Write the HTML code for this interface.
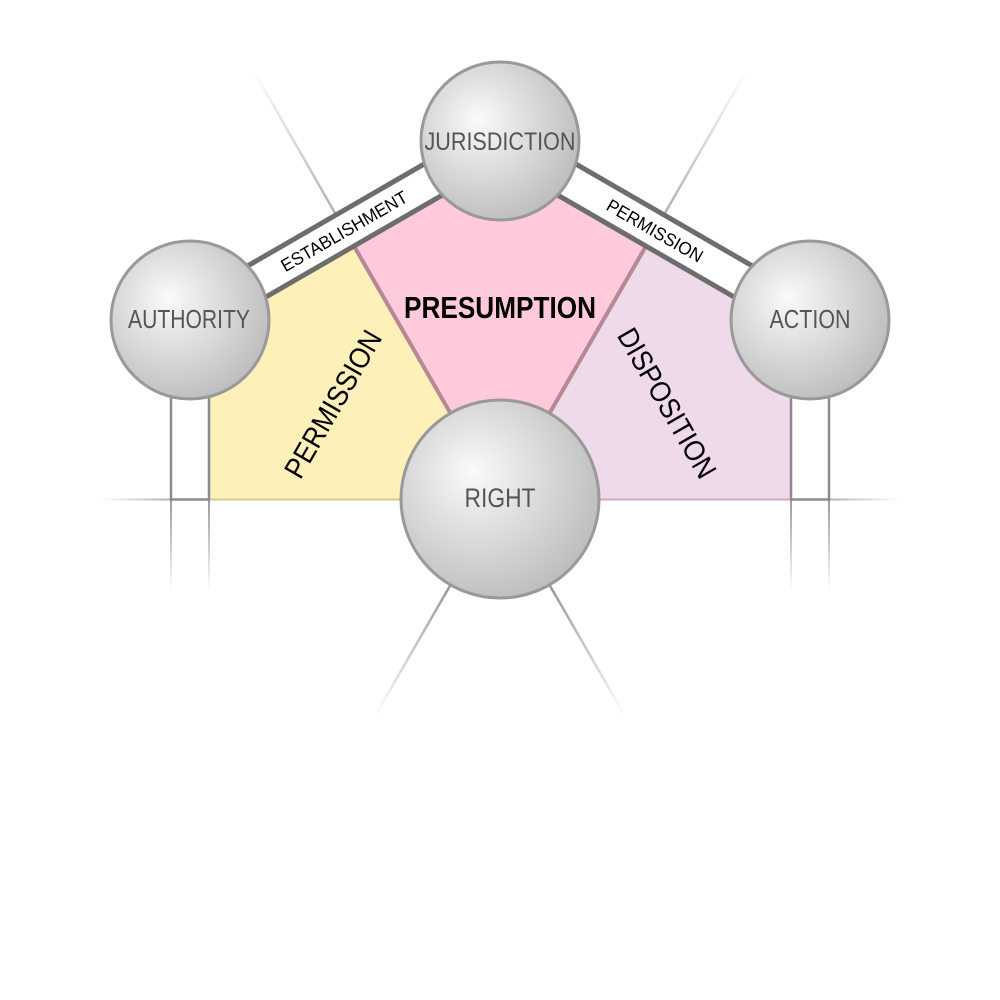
<!DOCTYPE html>
<html>
<head>
<meta charset="utf-8">
<style>
  html, body { margin: 0; padding: 0; background: #ffffff; }
  svg { display: block; }
  .node { font-family: "Liberation Sans Narrow", "Liberation Sans", sans-serif; fill: #555555; }
  .lbl { font-family: "Liberation Sans Narrow", "Liberation Sans", sans-serif; fill: #000000; }
</style>
</head>
<body>
<svg width="1000" height="1000" viewBox="0 0 1000 1000" xmlns="http://www.w3.org/2000/svg">
  <defs>
    <radialGradient id="ball" cx="0.4" cy="0.4" r="0.65" fx="0.36" fy="0.36">
      <stop offset="0" stop-color="#fafafa"/>
      <stop offset="1" stop-color="#bcbcbc"/>
    </radialGradient>
    <linearGradient id="gTL" gradientUnits="userSpaceOnUse" x1="345" y1="230" x2="252" y2="68">
      <stop offset="0" stop-color="#a8a8a8"/>
      <stop offset="1" stop-color="#ffffff"/>
    </linearGradient>
    <linearGradient id="gTR" gradientUnits="userSpaceOnUse" x1="655" y1="230" x2="748" y2="68">
      <stop offset="0" stop-color="#a8a8a8"/>
      <stop offset="1" stop-color="#ffffff"/>
    </linearGradient>
    <linearGradient id="gBL" gradientUnits="userSpaceOnUse" x1="447" y1="590" x2="375" y2="716">
      <stop offset="0" stop-color="#999999"/>
      <stop offset="1" stop-color="#ffffff"/>
    </linearGradient>
    <linearGradient id="gBR" gradientUnits="userSpaceOnUse" x1="553" y1="590" x2="625" y2="716">
      <stop offset="0" stop-color="#999999"/>
      <stop offset="1" stop-color="#ffffff"/>
    </linearGradient>
    <linearGradient id="gHL" gradientUnits="userSpaceOnUse" x1="100" y1="0" x2="171" y2="0">
      <stop offset="0" stop-color="#ffffff"/>
      <stop offset="1" stop-color="#b0b0b0"/>
    </linearGradient>
    <linearGradient id="gHR" gradientUnits="userSpaceOnUse" x1="900" y1="0" x2="829" y2="0">
      <stop offset="0" stop-color="#ffffff"/>
      <stop offset="1" stop-color="#b0b0b0"/>
    </linearGradient>
    <linearGradient id="gV" gradientUnits="userSpaceOnUse" x1="0" y1="499" x2="0" y2="592">
      <stop offset="0" stop-color="#999999"/>
      <stop offset="1" stop-color="#ffffff"/>
    </linearGradient>
  </defs>

  <!-- faint guide lines -->
  <line x1="345" y1="230.5" x2="252" y2="68" stroke="url(#gTL)" stroke-width="2.5"/>
  <line x1="655" y1="230.5" x2="748" y2="68" stroke="url(#gTR)" stroke-width="2.5"/>
  <line x1="500" y1="499" x2="375" y2="716" stroke="url(#gBL)" stroke-width="2.5"/>
  <line x1="500" y1="499" x2="625" y2="716" stroke="url(#gBR)" stroke-width="2.5"/>
  <line x1="100" y1="499.5" x2="171" y2="499.5" stroke="url(#gHL)" stroke-width="2"/>
  <line x1="900" y1="499.5" x2="829" y2="499.5" stroke="url(#gHR)" stroke-width="2"/>
  <line x1="171" y1="499" x2="171" y2="592" stroke="url(#gV)" stroke-width="2"/>
  <line x1="209" y1="499" x2="209" y2="592" stroke="url(#gV)" stroke-width="2"/>
  <line x1="791" y1="499" x2="791" y2="592" stroke="url(#gV)" stroke-width="2"/>
  <line x1="829" y1="499" x2="829" y2="592" stroke="url(#gV)" stroke-width="2"/>

  <!-- regions -->
  <polygon points="190,320 345,230.5 500,499 209,499 209,320" fill="#fdf0b9"/>
  <line x1="209" y1="499.5" x2="420" y2="499.5" stroke="#d6c98f" stroke-width="2"/>
  <polygon points="810,320 655,230.5 500,499 791,499 791,320" fill="#eedaea"/>
  <line x1="580" y1="499.5" x2="791" y2="499.5" stroke="#c9aebf" stroke-width="2"/>
  <polygon points="345,230.5 500,141 655,230.5 500,499" fill="#fecadc"/>
  <line x1="345" y1="230.5" x2="500" y2="499" stroke="#b58892" stroke-width="4"/>
  <line x1="655" y1="230.5" x2="500" y2="499" stroke="#b58892" stroke-width="4"/>

  <!-- bands -->
  <line x1="190" y1="320" x2="500" y2="141" stroke="#6d6d6d" stroke-width="41"/>
  <line x1="190" y1="320" x2="500" y2="141" stroke="#ffffff" stroke-width="31"/>
  <line x1="810" y1="320" x2="500" y2="141" stroke="#6d6d6d" stroke-width="41"/>
  <line x1="810" y1="320" x2="500" y2="141" stroke="#ffffff" stroke-width="31"/>

  <!-- small rects under side nodes -->
  <rect x="171" y="380" width="38" height="119.5" fill="#ffffff" stroke="#8c8c8c" stroke-width="2.5"/>
  <rect x="791" y="380" width="38" height="119.5" fill="#ffffff" stroke="#8c8c8c" stroke-width="2.5"/>

  <!-- nodes -->
  <circle cx="500" cy="141" r="79" fill="url(#ball)" stroke="#999999" stroke-width="3"/>
  <circle cx="190" cy="320" r="79" fill="url(#ball)" stroke="#999999" stroke-width="3"/>
  <circle cx="810" cy="320" r="79" fill="url(#ball)" stroke="#999999" stroke-width="3"/>
  <circle cx="500" cy="499" r="99" fill="url(#ball)" stroke="#999999" stroke-width="3"/>

  <!-- node labels -->
  <text class="node" x="500" y="150" font-size="25" text-anchor="middle" textLength="151" lengthAdjust="spacingAndGlyphs">JURISDICTION</text>
  <text class="node" x="189" y="328" font-size="26" text-anchor="middle" textLength="122" lengthAdjust="spacingAndGlyphs">AUTHORITY</text>
  <text class="node" x="810" y="328" font-size="26" text-anchor="middle" textLength="81" lengthAdjust="spacingAndGlyphs">ACTION</text>
  <text class="node" x="500" y="507" font-size="27" text-anchor="middle" textLength="71" lengthAdjust="spacingAndGlyphs">RIGHT</text>

  <!-- region labels -->
  <text class="lbl" x="500" y="318" font-size="31" font-weight="bold" text-anchor="middle" textLength="192" lengthAdjust="spacingAndGlyphs">PRESUMPTION</text>
  <g transform="translate(333,404) rotate(-60)">
    <text class="lbl" x="0" y="10" font-size="29" text-anchor="middle" textLength="165" lengthAdjust="spacingAndGlyphs">PERMISSION</text>
  </g>
  <g transform="translate(667,403) rotate(60)">
    <text class="lbl" x="0" y="10" font-size="29" text-anchor="middle" textLength="168" lengthAdjust="spacingAndGlyphs">DISPOSITION</text>
  </g>

  <!-- band labels -->
  <g transform="translate(344,231) rotate(-30)">
    <text class="lbl" x="0" y="6.5" font-size="18" text-anchor="middle" textLength="143" lengthAdjust="spacingAndGlyphs">ESTABLISHMENT</text>
  </g>
  <g transform="translate(655,230.5) rotate(30)">
    <text class="lbl" x="0" y="6.5" font-size="18" text-anchor="middle" textLength="108" lengthAdjust="spacingAndGlyphs">PERMISSION</text>
  </g>
</svg>
</body>
</html>
